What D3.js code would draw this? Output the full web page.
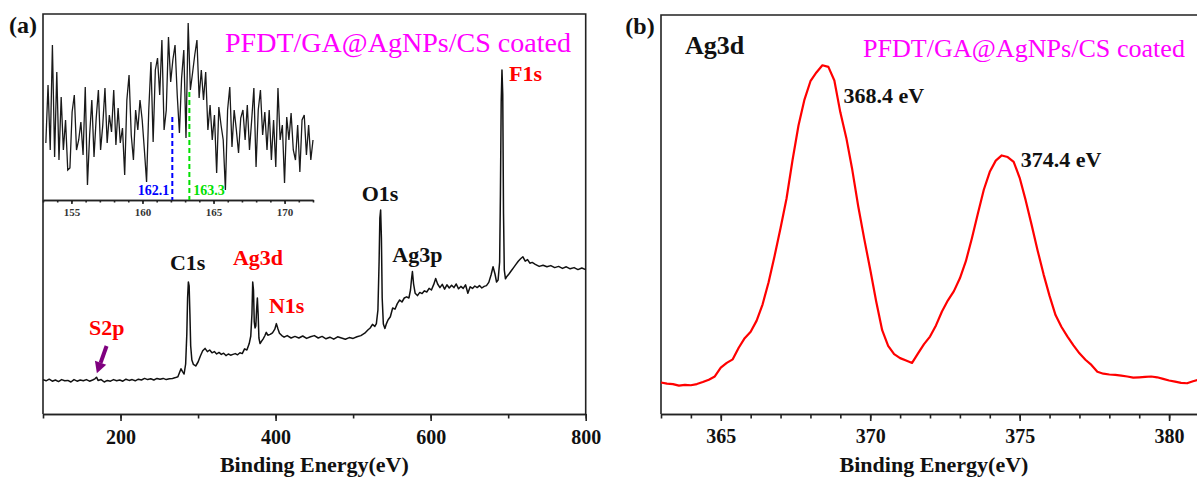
<!DOCTYPE html>
<html><head><meta charset="utf-8">
<script src="https://cdn.jsdelivr.net/npm/d3@7"></script>
<style>html,body{margin:0;padding:0;background:#fff;}svg{display:block;}</style>
</head><body>
<svg id="c" width="1197" height="479"></svg>
<script>
// ---------- DATA ----------
// (a) XPS survey spectrum: binding energy (eV) and intensity (a.u.)
const surveyE = [100,104,108,112,116,120,124,128,132,136,140,144,148,152,156,160,164,167,169,171,175,179,183,187,191,195,199,203,207,211,215,219,223,227,231,235,239,243,247,251,255,259,263,267,271,274,276,278,280,282,284,285.5,286.5,287.5,288.5,289.5,290.5,292,294,297,300,303,306,309,312,315,318,321,324,327,330,333,336,339,342,345,348,351,354,357,360,363,366,368,369.5,370.5,371.5,372.5,373.5,374.5,375.5,376.5,377.5,378.5,380,382,384,386,388,390,393,396,399,401,403,405,408,411,415,420,425,430,435,440,445,450,455,460,465,470,475,480,485,490,495,500,505,510,515,519,522,525,528,530,532,533.5,534.5,535.5,536.5,537.5,539,541,543,545,548,551,554,557,560,563,566,569,572,574,575.5,576.5,578,580,583,586,589,592,595,598,601,604,606.5,609,612,615,618,621,624,627,630,633,636,639,642,645,648,651,654,657,660,663,666,669,672,675,678,680.5,683,685,687,689,690,691,692,693,694,695,696.5,698,701,704,707,710,713,716,719,722,725,728,731,735,740,745,750,755,760,765,770,775,780,785,790,795,800];
const surveyI = [8.6,8.3,8.7,8.2,8.5,8.1,8.6,8.3,8.4,8.0,8.6,8.2,8.5,8.3,8.6,8.2,8.5,8.8,9.2,8.4,8.6,8.0,8.4,8.2,8.6,8.3,8.5,8.2,8.7,8.4,8.6,8.3,8.7,8.5,8.9,8.6,8.8,8.5,8.9,8.7,8.9,8.6,8.8,8.9,9.1,9.3,10.3,11.3,10.6,10.0,12.5,20,29,33,32,25,17,13.5,12.4,12.0,13.0,14.5,15.8,16.4,15.6,16.0,15.3,15.6,15.0,15.4,14.9,15.2,14.6,15.0,14.7,14.9,15.1,14.8,15.3,15.1,16.3,16.0,17.6,19.5,25,33,31,23,21.5,22,26,29,25,19,17.6,18.2,18.8,19.5,20.4,19.7,19.9,20.3,21.2,22.6,21.3,20.2,19.6,19.2,19.6,19.0,19.4,19.0,19.5,18.9,19.3,19.6,19.0,19.4,18.8,19.2,18.7,19.3,19.0,18.7,19.1,18.9,19.3,19.6,20.2,21.0,21.5,22.4,21.9,22.6,26,38,49,51,44,29,22.5,21.4,22.6,23.5,24.3,26.5,26.2,27.6,28.5,28.0,29.0,29.3,29.0,31.0,34,35.6,32.5,30.2,29.6,30.4,30.1,30.8,30.5,31.4,31.0,32.4,33.9,32.5,31.6,32.4,31.2,32.3,31.5,32.2,31.6,32.5,31.3,31.9,31.4,32.3,30.2,31.8,31.4,32.0,31.6,32.1,31.5,31.9,32.1,32.9,34.8,36.8,35.0,33.0,33.5,38,55,78,86,80,50,36,33.8,34.3,35.0,35.8,36.6,37.4,38.2,38.8,39.3,38.2,38.6,37.7,37.9,37.4,36.9,37.2,36.8,37.1,36.6,36.9,36.4,36.8,36.3,36.6,36.1,36.5,36.1];
const surveyTicks = [200,400,600,800];
const surveyMinor = [100,200,300,400,500,600,700,800];

// (a) inset: S2p region, evenly sampled from 153.2 to 172.0 eV
const insetStart = 153.2, insetEnd = 172.0;
const insetI = [57,115,50,155,43,128,40,103,50,80,30,32,88,
 105,50,60,78,45,113,15,65,100,43,82,110,50,
 75,112,57,85,68,110,55,92,57,72,25,100,125,
 65,40,90,70,100,80,50,18,90,138,58,130,142,
 105,160,70,90,163,118,140,155,105,67,122,150,62,
 177,110,127,145,160,102,130,100,128,70,95,60,85,
 27,93,75,60,10,90,113,53,90,70,47,82,90,
 60,95,50,80,112,33,90,110,65,88,50,90,40,
 80,33,112,60,75,17,83,60,87,50,40,75,28,
 80,85,45,75,40,60];
const insetTicks = [155,160,165,170];
const insetMinor = [153,154,155,156,157,158,159,160,161,162,163,164,165,166,167,168,169,170,171,172];
const s2pMarks = [{e:162.1, top:83, label:"162.1", color:"#0000ff"},{e:163.3, top:108, label:"163.3", color:"#00e000"}];

// (b) Ag3d high-resolution spectrum, 0.2 eV steps from 363.0 to 381.0 eV
const agStart = 363.0, agStep = 0.2;
const agI = [7.9,7.6,7.5,7.1,7.3,7.2,7.5,8.0,8.6,9.4,
 11.6,12.8,13.7,16.6,19.0,20.6,23.4,27.5,33.0,39.6,
 46.6,54.0,63.6,72.3,78.8,83.4,85.6,87.4,87.0,83.6,
 75.6,69.2,61.2,52.0,43.9,36.2,28.2,21.0,17.1,15.0,
 14.0,13.4,12.8,15.2,17.5,19.4,22.2,25.7,28.5,30.8,
 34.0,38.3,44.0,50.2,56.2,60.7,63.5,64.8,64.4,63.2,
 59.2,53.6,47.4,41.0,35.0,29.6,24.8,21.8,19.4,17.2,
 15.2,13.6,12.3,10.6,10.1,9.9,9.8,9.6,9.4,9.1,
 9.2,9.3,9.4,9.2,8.8,8.4,8.1,7.8,7.7,8.2,8.6];
const agTicks = [365,370,375,380];
const agMinor = [363,364,365,366,367,368,369,370,371,372,373,374,375,376,377,378,379,380,381];

// ---------- DRAW ----------
const FONT = "'Liberation Serif','Times New Roman',serif";
const svg = d3.select("#c").style("font-family", FONT);
const AX = "#222", AXW = 1.6;

function styleAxis(g, fs, bold){
  g.select(".domain").attr("stroke", AX).attr("stroke-width", AXW);
  g.selectAll(".tick line").attr("stroke", AX).attr("stroke-width", AXW);
  g.selectAll(".tick text").attr("fill", "#111").style("font-size", fs+"px")
   .style("font-weight", bold ? "bold" : "normal").style("font-family", FONT);
}
function label(x, y, txt, size, color, weight, extra){
  const t = svg.append("text").attr("x", x).attr("y", y).text(txt)
    .style("font-size", size+"px").style("font-weight", weight||"bold").attr("fill", color||"#111");
  if (extra) extra(t);
  return t;
}

// ===== Panel (a) =====
const xa = d3.scaleLinear().domain([100,800]).range([43,585.7]);
const ya = d3.scaleLinear().domain([0,100]).range([414,14]);

svg.append("path").attr("d", `M${xa(100)},${ya(0)}V${ya(100)}H${xa(800)}V${ya(0)}`)
  .attr("fill","none").attr("stroke",AX).attr("stroke-width",AXW);

const gaMinor = svg.append("g").attr("transform",`translate(0,${ya(0)})`)
  .call(d3.axisBottom(xa).tickValues(surveyMinor).tickSize(4.5).tickSizeOuter(0).tickFormat(""));
styleAxis(gaMinor, 20, true);
const gaMajor = svg.append("g").attr("transform",`translate(0,${ya(0)})`)
  .call(d3.axisBottom(xa).tickValues(surveyTicks).tickSize(7).tickSizeOuter(0).tickPadding(9).tickFormat(d3.format("d")));
styleAxis(gaMajor, 20, true);

const survey = surveyE.map((e,i)=>[e, surveyI[i]]);
svg.append("path").datum(survey)
  .attr("d", d3.line().x(d=>xa(d[0])).y(d=>ya(d[1])))
  .attr("fill","none").attr("stroke","#111").attr("stroke-width",1.5).attr("stroke-linejoin","round");

// peak labels (a)
label(xa(263.8), ya(36.0), "C1s", 22);
label(xa(345), ya(37.25), "Ag3d", 22, "#f00");
label(xa(391.5), ya(25.25), "N1s", 22, "#f00");
label(xa(159.3), ya(19.75), "S2p", 22, "#f00");
label(xa(511), ya(53.3), "O1s", 22);
label(xa(550.5), ya(38.1), "Ag3p", 22);
label(xa(701), ya(83.25), "F1s", 22, "#f00");

// S2p arrow
(function(){
  const x1 = xa(182), y1 = ya(17), x2 = xa(169.5), y2 = ya(10.2);
  const ang = Math.atan2(y2-y1, x2-x1);
  const hl = 11, hw = 6;
  const bx = x2 - hl*Math.cos(ang), by = y2 - hl*Math.sin(ang);
  svg.append("line").attr("x1",x1).attr("y1",y1).attr("x2",bx).attr("y2",by)
    .attr("stroke","#7f007f").attr("stroke-width",4);
  svg.append("path").attr("d",
    `M${x2},${y2}L${bx + hw*Math.sin(ang)},${by - hw*Math.cos(ang)}L${bx - hw*Math.sin(ang)},${by + hw*Math.cos(ang)}Z`)
    .attr("fill","#7f007f");
})();

// inset
const xi = d3.scaleLinear().domain([153,172]).range([43,313]);
const yi = d3.scaleLinear().domain([0,186]).range([200,14]);
const giMinor = svg.append("g").attr("transform",`translate(0,${yi(0)})`)
  .call(d3.axisBottom(xi).tickValues(insetMinor).tickSize(2.5).tickSizeOuter(0).tickFormat(""));
styleAxis(giMinor, 11, true);
const giMajor = svg.append("g").attr("transform",`translate(0,${yi(0)})`)
  .call(d3.axisBottom(xi).tickValues(insetTicks).tickSize(4).tickSizeOuter(0).tickPadding(4).tickFormat(d3.format("d")));
styleAxis(giMajor, 11, true);
giMajor.selectAll(".tick text").attr("fill","#333");

const insetStep = (insetEnd - insetStart)/(insetI.length - 1);
const inset = insetI.map((v,i)=>[insetStart + i*insetStep, v]);
svg.append("path").datum(inset)
  .attr("d", d3.line().x(d=>xi(d[0])).y(d=>yi(d[1])))
  .attr("fill","none").attr("stroke","#1a1a1a").attr("stroke-width",1.3);

s2pMarks.forEach((m,i)=>{
  svg.append("line").attr("x1",xi(m.e)).attr("x2",xi(m.e)).attr("y1",yi(m.top)).attr("y2",yi(0))
    .attr("stroke",m.color).attr("stroke-width",2).attr("stroke-dasharray","5,3");
  const t = label(i===0 ? xi(m.e)-3 : xi(m.e)+4, yi(5), m.label, 14, m.color);
  t.attr("text-anchor", i===0 ? "end" : "start");
});

label(225, 52, "PFDT/GA@AgNPs/CS coated", 28, "#ff00ff", "normal", t=>t.attr("textLength",346).attr("lengthAdjust","spacingAndGlyphs"));
label(23, 25, "(a)", 24, "#111", "bold", t=>t.attr("text-anchor","middle").attr("dominant-baseline","central"));
label((xa(100)+xa(800))/2, 472, "Binding Energy(eV)", 22, "#111", "bold", t=>t.attr("text-anchor","middle"));

// ===== Panel (b) =====
const xb = d3.scaleLinear().domain([363,381]).range([661,1199]);
const yb = d3.scaleLinear().domain([0,100]).range([414,15]);

svg.append("path").attr("d", `M${xb(381)},${yb(0)}V${yb(100)}H${xb(363)}V${yb(0)}`)
  .attr("fill","none").attr("stroke",AX).attr("stroke-width",AXW);
const gbMinor = svg.append("g").attr("transform",`translate(0,${yb(0)})`)
  .call(d3.axisBottom(xb).tickValues(agMinor).tickSize(4.5).tickSizeOuter(0).tickFormat(""));
styleAxis(gbMinor, 20, true);
const gbMajor = svg.append("g").attr("transform",`translate(0,${yb(0)})`)
  .call(d3.axisBottom(xb).tickValues(agTicks).tickSize(7).tickSizeOuter(0).tickPadding(8).tickFormat(d3.format("d")));
styleAxis(gbMajor, 20, true);

const ag = agI.map((v,i)=>[agStart + i*agStep, v]);
svg.append("path").datum(ag)
  .attr("d", d3.line().x(d=>xb(d[0])).y(d=>yb(d[1])))
  .attr("fill","none").attr("stroke","#ff0000").attr("stroke-width",2.2).attr("stroke-linejoin","round");

label(685, 54, "Ag3d", 26);
label(863, 57, "PFDT/GA@AgNPs/CS coated", 25, "#ff00ff", "normal", t=>t.attr("textLength",322).attr("lengthAdjust","spacingAndGlyphs"));
label(xb(368.4)+21, 103, "368.4 eV", 22);
label(xb(374.4)+19, 167, "374.4 eV", 22);
label(640, 26, "(b)", 24, "#111", "bold", t=>t.attr("text-anchor","middle").attr("dominant-baseline","central"));
label(934, 472, "Binding Energy(eV)", 22, "#111", "bold", t=>t.attr("text-anchor","middle"));
</script>
</body></html>
